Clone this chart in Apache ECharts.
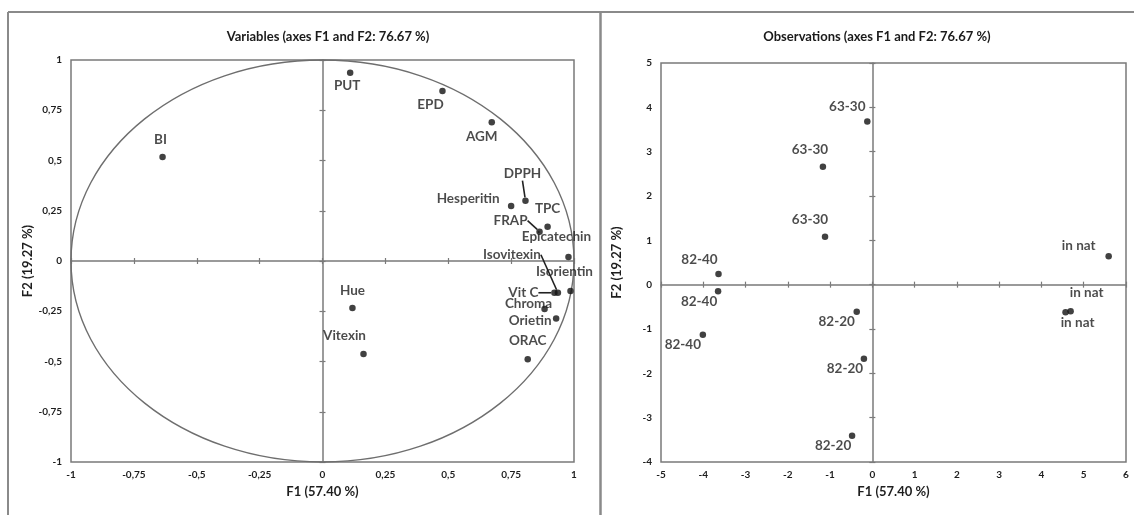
<!DOCTYPE html>
<html><head><meta charset="utf-8">
<script src="https://cdn.jsdelivr.net/npm/echarts@6/dist/echarts.min.js"></script>
<style>html,body{margin:0;padding:0;background:#fff}#c{width:1134px;height:515px}</style>
</head><body><div id="c"></div>
<script>
// ---- Data: Variables (correlation circle) ----
const varNames = ['PUT','EPD','AGM','BI','DPPH','Hesperitin','TPC','FRAP','Epicatechin','Isovitexin','Isorientin','Vit C','Chroma','Orietin','ORAC','Hue','Vitexin'];
const varF1 = [0.110,0.477,0.673,-0.636,0.807,0.750,0.895,0.863,0.978,0.936,0.986,0.922,0.883,0.929,0.816,0.119,0.163];
const varF2 = [0.937,0.846,0.690,0.517,0.300,0.274,0.171,0.146,0.020,-0.158,-0.149,-0.158,-0.239,-0.286,-0.489,-0.234,-0.463];
// ---- Data: Observations ----
const obsNames = ['63-30','63-30','63-30','82-40','82-40','82-40','82-20','82-20','82-20','in nat','in nat','in nat'];
const obsF1 = [-0.12,-1.17,-1.12,-3.64,-3.65,-4.01,-0.37,-0.20,-0.48,5.59,4.69,4.57];
const obsF2 = [3.68,2.66,1.08,0.24,-0.15,-1.13,-0.61,-1.67,-3.41,0.64,-0.60,-0.62];
// unit circle: centre x, centre y, radius
const circleData = [[0,0,1]];
const varTitle = 'Variables (axes F1 and F2: 76.67 %)';
const obsTitle = 'Observations (axes F1 and F2: 76.67 %)';
const xName = 'F1 (57.40 %)';
const yName = 'F2 (19.27 %)';

// ---- Label placement (pixel offsets from each point), kept apart from data ----
const varLabelOffsets = [[-3,13],[-12,14],[-10,14],[-2,-17],[-3,-27],[-43,-7],[0,-18],[-29,-11],[-12,-20],[-46,-38],[-6,-19],[-31,0],[-16,-5],[-26,2],[0,-19],[0,-17],[-19,-18]];
const varLeader = {4:true,7:true,9:true,11:true};
const obsLabelOffsets = [[-20,-15],[-13,-17],[-15,-17],[-19,-14],[-19,10],[-20,10],[-20,10],[-19,10],[-19,10],[-30,-11],[16,-19],[12,10]];

const FONT = 'Lato';
const AX = '#7a7a7a';
const TXT = '#1e1e1e';
const comma = v => String(v).replace('.', ',');

function axesFor(gi, min, max, interval, isX, labelFmt, nameGap) {
  const base = {gridIndex: gi, type:'value', min, max, interval, splitLine:{show:false}};
  const labeled = Object.assign({}, base, {
    position: isX ? 'bottom' : 'left',
    axisLine:{show:false, onZero:false}, axisTick:{show:false},
    axisLabel:{fontFamily:FONT, fontWeight:'bold', fontSize:10, color:TXT, margin: isX ? 8 : 9, formatter: labelFmt},
    name: isX ? xName : yName, nameLocation:'middle', nameGap,
    nameRotate: isX ? 0 : 90,
    nameTextStyle:{fontFamily:FONT, fontWeight:'bold', fontSize:13, color:TXT}
  });
  const zeroA = Object.assign({}, base, {
    position: isX ? 'top' : 'right',
    axisLine:{show:true, onZero:true, lineStyle:{color:AX, width:1.5}},
    axisTick:{show:true, length:3, lineStyle:{color:AX, width:1.2}},
    axisLabel:{show:false}
  });
  const zeroB = Object.assign({}, base, {
    position: isX ? 'bottom' : 'left',
    axisLine:{show:false, onZero:true},
    axisTick:{show:true, length:3, lineStyle:{color:AX, width:1.2}},
    axisLabel:{show:false}
  });
  return [labeled, zeroA, zeroB];
}

const xAxes = [].concat(
  axesFor(0, -1, 1, 0.25, true, comma, 17),
  axesFor(1, -5, 6, 1, true, null, 19)
);
const yAxes = [].concat(
  axesFor(0, -1, 1, 0.25, false, comma, 31),
  axesFor(1, -4, 5, 1, false, null, 38)
);

const labelStyle = {show:true, position:'inside', fontFamily:FONT, fontSize:13.5, color:TXT, fontWeight:'bold'};

const chart = echarts.init(document.getElementById('c'), null, {renderer:'canvas'});
chart.setOption({
  backgroundColor:'#fff',
  animation:false,
  title:[
    {text:varTitle, left:323, top:25, textAlign:'center', textStyle:{fontFamily:FONT, fontWeight:'bold', fontSize:13, color:'#1a1a1a'}},
    {text:obsTitle, left:872, top:25, textAlign:'center', textStyle:{fontFamily:FONT, fontWeight:'bold', fontSize:13, color:'#1a1a1a'}}
  ],
  grid:[
    {left:71, top:60, width:503, height:402, show:true, borderColor:AX, borderWidth:1.5, containLabel:false},
    {left:661, top:63, width:465, height:399, show:true, borderColor:AX, borderWidth:1.5, containLabel:false}
  ],
  xAxis: xAxes,
  yAxis: yAxes,
  graphic:[
    {type:'line', shape:{x1:8, y1:12, x2:1134, y2:12}, style:{stroke:'#8a8a8a', lineWidth:2}},
    {type:'line', shape:{x1:8, y1:12, x2:8, y2:515}, style:{stroke:'#8a8a8a', lineWidth:2}},
    {type:'line', shape:{x1:600.5, y1:12, x2:600.5, y2:515}, style:{stroke:'#8a8a8a', lineWidth:2.5}}
  ],
  series:[
    {
      type:'custom', xAxisIndex:0, yAxisIndex:0, silent:true, clip:false,
      data: circleData,
      renderItem:(params, api) => {
        const c = api.coord([api.value(0), api.value(1)]);
        const s = api.size([api.value(2), api.value(2)]);
        return {type:'ellipse', shape:{cx:c[0], cy:c[1], rx:s[0], ry:s[1]}, style:{fill:'none', stroke:'#6e6e6e', lineWidth:1.4}};
      },
      z:1
    },
    {
      type:'scatter', xAxisIndex:0, yAxisIndex:0, symbolSize:6.5,
      itemStyle:{color:'#111'},
      data: varNames.map((n,i) => ({name:n, value:[varF1[i], varF2[i]], labelLine:{show: !!varLeader[i]}})),
      label: Object.assign({}, labelStyle, {formatter: p => p.name}),
      labelLine:{show:false, lineStyle:{color:'#222', width:1.6}},
      labelLayout: p => ({dx: varLabelOffsets[p.dataIndex][0], dy: varLabelOffsets[p.dataIndex][1]}),
      z:5
    },
    {
      type:'scatter', xAxisIndex:3, yAxisIndex:3, symbolSize:6.5,
      itemStyle:{color:'#111'},
      data: obsNames.map((n,i) => ({name:n, value:[obsF1[i], obsF2[i]]})),
      label: Object.assign({}, labelStyle, {formatter: p => p.name}),
      labelLayout: p => ({dx: obsLabelOffsets[p.dataIndex][0], dy: obsLabelOffsets[p.dataIndex][1]}),
      z:5
    }
  ]
});
</script></body></html>
